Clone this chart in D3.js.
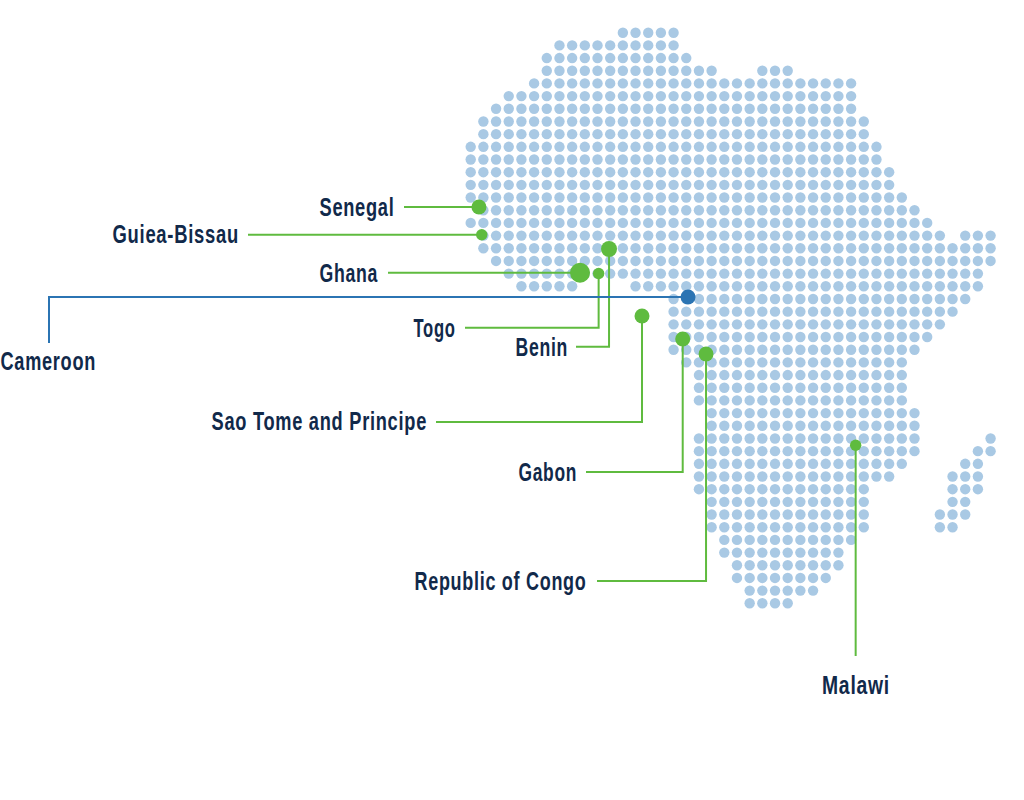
<!DOCTYPE html>
<html>
<head>
<meta charset="utf-8">
<title>Africa dot map</title>
<script src="https://cdn.jsdelivr.net/npm/d3@7"></script>
<style>
    html, body { margin: 0; padding: 0; background: #fff; }
    svg { display: block; }
    .label { font-family: "Liberation Sans", sans-serif; font-size: 25px; font-weight: 700; letter-spacing: 1px; fill: #11294a; }
</style>
</head>
<body>
<div id="chart"></div>
<script>
// map cells, one list of [first column, last column] runs per grid row
const landRuns = [
    [[12, 16]], [[7, 16]], [[6, 17]], [[6, 19], [23, 25]], [[5, 30]], [[3, 30]],
    [[2, 30]], [[1, 31]], [[1, 31]], [[0, 32]], [[0, 32]], [[0, 33]],
    [[0, 33]], [[0, 34]], [[1, 35]], [[0, 36]], [[1, 37], [39, 41]], [[1, 41]],
    [[2, 41]], [[3, 40]], [[4, 8], [13, 40]], [[16, 39]], [[16, 38]], [[16, 37]],
    [[16, 36]], [[16, 35]], [[17, 34]], [[18, 34]], [[18, 34]], [[18, 34]],
    [[19, 35]], [[19, 35]], [[18, 35], [41, 41]], [[18, 35], [40, 41]], [[18, 34], [39, 40]], [[18, 33], [38, 40]],
    [[18, 31], [38, 40]], [[19, 31], [38, 39]], [[19, 31], [37, 39]], [[19, 31], [37, 38]], [[20, 30]], [[20, 29]],
    [[21, 29]], [[21, 28]], [[22, 27]], [[22, 25]]
];

// highlighted countries, located in grid units
const countries = ["Senegal", "Guiea-Bissau", "Ghana", "Togo", "Benin", "Cameroon", "Sao Tome and Principe", "Gabon", "Republic of Congo", "Malawi"];
const countryCols = [0.65, 0.87, 8.62, 10.09, 10.91, 17.14, 13.51, 16.72, 18.56, 30.36];
const countryRows = [13.75, 15.93, 18.93, 18.99, 17.06, 20.84, 22.34, 24.16, 25.34, 32.54];
const countrySizes = [7.5, 5.7, 10, 5.7, 8, 7.5, 7.5, 7.5, 7.5, 5.7];
const highlighted = ["Cameroon"];

const width = 1024;
const height = 800;
const step = 12.68;

const x = d3.scaleLinear().domain([0, 41]).range([470.7, 470.7 + 41 * step]);
const y = d3.scaleLinear().domain([0, 45]).range([32.7, 32.7 + 45 * step]);

const cells = landRuns.flatMap((runs, row) =>
    runs.flatMap(run => d3.range(run[0], run[1] + 1).map(col => ({ col, row })))
);

// leader layout: where each line ends in page pixels, and the label box [left, baseline, width]
const leaders = {
    "Senegal": { end: [404, null], label: [319.5, 216, 75] },
    "Guiea-Bissau": { end: [248, null], label: [112.5, 243, 126.5] },
    "Ghana": { end: [388, null], label: [319.5, 282, 58.5] },
    "Togo": { end: [465, 327.7], label: [413.5, 337, 42] },
    "Benin": { end: [576, 346.7], label: [515.5, 355.5, 52.5] },
    "Cameroon": { end: [49, 297, 343], label: [0.5, 370, 95.5] },
    "Sao Tome and Principe": { end: [436, 422], label: [211.5, 430, 215.5] },
    "Gabon": { end: [586, 472], label: [518.5, 481, 58.5] },
    "Republic of Congo": { end: [597, 581], label: [414.5, 590, 172] },
    "Malawi": { end: [null, 656], label: [822, 694, 68] }
};

const color = name => highlighted.includes(name) ? "#2b74b3" : "#5fbb3f";

const svg = d3.select("#chart").append("svg")
    .attr("width", width)
    .attr("height", height);

svg.append("g").selectAll("circle")
    .data(cells)
    .enter().append("circle")
    .attr("cx", d => x(d.col))
    .attr("cy", d => y(d.row))
    .attr("r", 5.2)
    .attr("fill", "#a9c9e4");

const places = countries.map((name, i) => ({
    name,
    px: x(countryCols[i]),
    py: y(countryRows[i]),
    r: countrySizes[i],
    leader: leaders[name]
}));

function leaderPoints(d) {
    const end = d.leader.end;
    if (end[0] === null) return [[d.px, d.py], [d.px, end[1]]];
    if (end[1] === null) return [[d.px, d.py], [end[0], d.py]];
    if (end.length === 3) return [[d.px, d.py], [end[0], d.py], [end[0], end[2]]];
    return [[d.px, d.py], [d.px, end[1]], [end[0], end[1]]];
}

const line = d3.line();

svg.append("g").selectAll("path")
    .data(places)
    .enter().append("path")
    .attr("d", d => line(leaderPoints(d)))
    .attr("fill", "none")
    .attr("stroke", d => color(d.name))
    .attr("stroke-width", 2);

svg.append("g").selectAll("circle")
    .data(places)
    .enter().append("circle")
    .attr("cx", d => d.px)
    .attr("cy", d => d.py)
    .attr("r", d => d.r)
    .attr("fill", d => color(d.name));

svg.append("g").selectAll("text")
    .data(places)
    .enter().append("text")
    .attr("class", "label")
    .attr("x", d => d.leader.label[0])
    .attr("y", d => d.leader.label[1])
    .attr("textLength", d => d.leader.label[2])
    .attr("lengthAdjust", "spacingAndGlyphs")
    .text(d => d.name);
</script>
</body>
</html>
